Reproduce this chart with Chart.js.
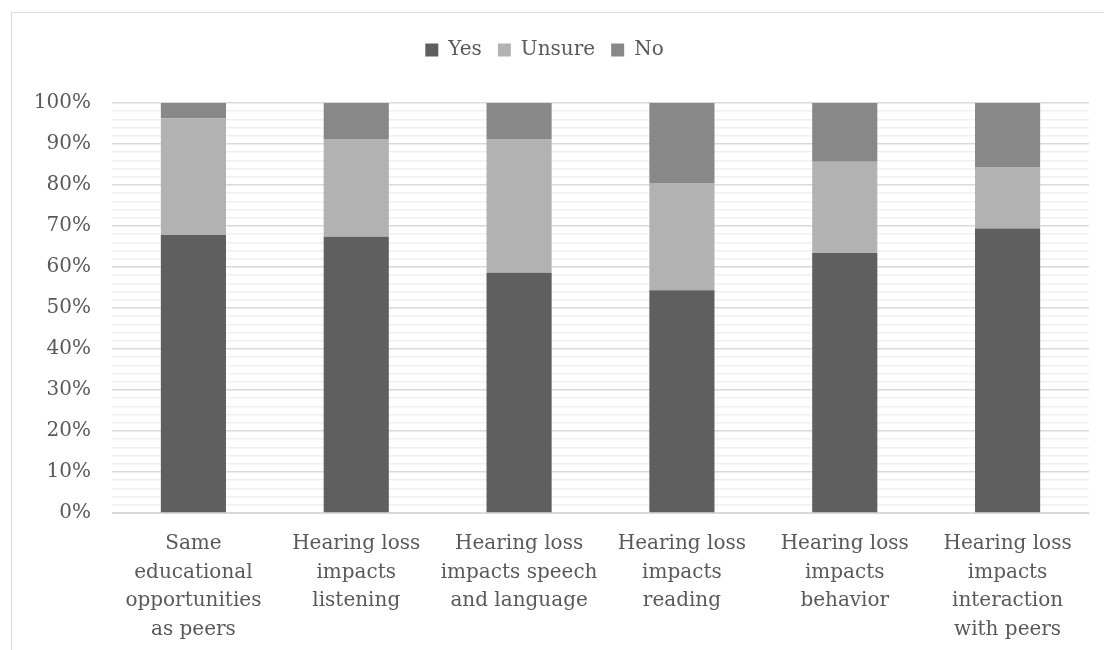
<!DOCTYPE html>
<html>
<head>
<meta charset="utf-8">
<script src="https://cdn.jsdelivr.net/npm/chart.js@4.4.0/dist/chart.umd.min.js"></script>
<style>
  html, body { margin: 0; padding: 0; background: #fff; }
  #frame {
    position: absolute; left: 11px; top: 12px; width: 1110px; height: 660px;
    border-left: 1px solid #d9d9d9; border-top: 1px solid #d9d9d9;
  }
  #wrap { position: absolute; left: 0; top: 0; width: 1104px; height: 650px; }
</style>
</head>
<body>
<div id="frame"></div>
<div id="wrap"><canvas id="chart"></canvas></div>
<script>
const categories = [
  ["Same", "educational", "opportunities", "as peers"],
  ["Hearing loss", "impacts", "listening"],
  ["Hearing loss", "impacts speech", "and language"],
  ["Hearing loss", "impacts", "reading"],
  ["Hearing loss", "impacts", "behavior"],
  ["Hearing loss", "impacts", "interaction", "with peers"],
];
const yesValues = [67.8, 67.4, 58.6, 54.3, 63.4, 69.4];
const unsureValues = [28.4, 23.8, 32.6, 26.2, 22.3, 15.0];
const noValues = [3.8, 8.8, 8.8, 19.5, 14.3, 15.6];

const textColor = "#595959";
const fontFamily = "'DejaVu Serif', serif";

// extra room under the legend, like the original layout
const legendGap = {
  id: "legendGap",
  beforeInit(chart) {
    const fit = chart.legend.fit;
    chart.legend.fit = function () {
      fit.bind(this)();
      this.height += 33;
    };
  },
};

document.addEventListener("DOMContentLoaded", () => {
  const ctx = document.getElementById("chart").getContext("2d");
  new Chart(ctx, {
    type: "bar",
    data: {
      labels: categories,
      datasets: [
        { label: "Yes", data: yesValues, backgroundColor: "#5f5f5f" },
        { label: "Unsure", data: unsureValues, backgroundColor: "#b2b2b2" },
        { label: "No", data: noValues, backgroundColor: "#888888" },
      ],
    },
    plugins: [legendGap],
    options: {
      responsive: true,
      maintainAspectRatio: false,
      animation: false,
      layout: { padding: { top: 24, right: 15, left: 0, bottom: 0 } },
      datasets: {
        bar: { barPercentage: 0.4, categoryPercentage: 1.0 },
      },
      scales: {
        x: {
          stacked: true,
          grid: { display: false },
          border: { color: "#d9d9d9" },
          ticks: {
            color: textColor,
            font: { family: fontFamily, size: 20, lineHeight: 1.42 },
            maxRotation: 0,
            padding: 9,
          },
          afterFit: (scale) => { scale.height = 137; },
        },
        y: {
          stacked: true,
          min: 0,
          max: 100,
          border: { display: false },
          grid: {
            color: (c) => (c.tick && c.tick.value % 10 === 0 ? "#d9d9d9" : "#f0f0f0"),
            lineWidth: 1.5,
            drawTicks: false,
          },
          ticks: {
            stepSize: 2,
            autoSkip: false,
            color: textColor,
            font: { family: fontFamily, size: 20 },
            padding: 21,
            callback: (v) => (v % 10 === 0 ? v + "%" : ""),
          },
          afterFit: (scale) => { scale.width = 112; },
        },
      },
      plugins: {
        legend: {
          position: "top",
          labels: {
            color: textColor,
            font: { family: fontFamily, size: 20 },
            boxWidth: 13,
            boxHeight: 13,
            padding: 16,
          },
        },
        tooltip: { enabled: false },
      },
    },
  });
});
</script>
</body>
</html>
